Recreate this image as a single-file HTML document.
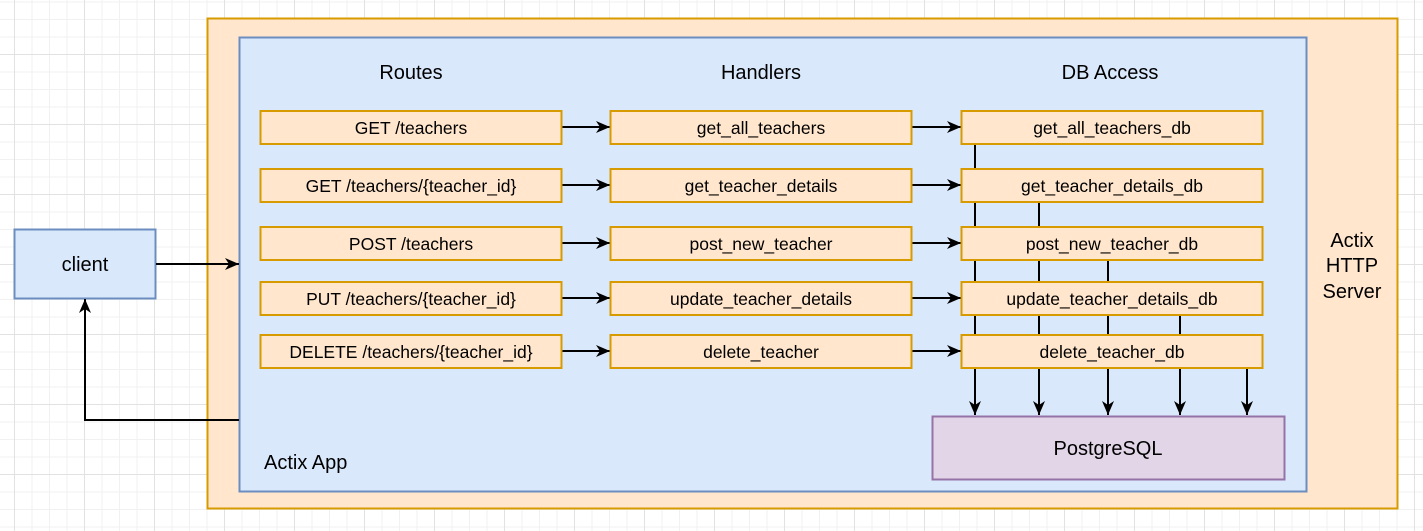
<!DOCTYPE html>
<html><head><meta charset="utf-8"><style>
html,body{margin:0;padding:0;}
body{width:1423px;height:531px;overflow:hidden;background-color:#fff;
background-image:
linear-gradient(to right,#e2e2e2 1px,transparent 1px),
linear-gradient(to bottom,#e2e2e2 1px,transparent 1px),
linear-gradient(to right,#f1f1f1 1px,transparent 1px),
linear-gradient(to bottom,#f1f1f1 1px,transparent 1px);
background-size:70px 70px,70px 70px,17.5px 17.5px,17.5px 17.5px;
background-position:14px 54px,14px 54px,14px 54px,14px 54px;}
svg{position:absolute;left:0;top:0;}
text{font-family:"Liberation Sans",Arial,sans-serif;fill:#000;}
</style></head><body>
<svg width="1423" height="531" viewBox="0 0 1423 531" xmlns="http://www.w3.org/2000/svg">
<defs><marker id="a" markerWidth="16" markerHeight="14" refX="14" refY="6" orient="auto" markerUnits="userSpaceOnUse"><path d="M0,0 L14,6 L0,12 L4,6 Z" fill="#000"/></marker></defs>
<rect x="207.5" y="18.5" width="1190" height="490" fill="#ffe6cc" stroke="#d79b00" stroke-width="2"/>
<rect x="239.5" y="37.5" width="1067" height="454" fill="#dae8fc" stroke="#6c8ebf" stroke-width="2"/>
<text x="1352" y="247" font-size="20" text-anchor="middle">Actix</text>
<text x="1352" y="272" font-size="20" text-anchor="middle">HTTP</text>
<text x="1352" y="298" font-size="20" text-anchor="middle">Server</text>
<text x="411" y="79" font-size="20" text-anchor="middle">Routes</text>
<text x="761" y="79" font-size="20" text-anchor="middle">Handlers</text>
<text x="1110" y="79" font-size="20" text-anchor="middle">DB Access</text>
<text x="264" y="469" font-size="20">Actix App</text>
<rect x="14.5" y="229.5" width="141" height="69" fill="#dae8fc" stroke="#6c8ebf" stroke-width="2"/>
<text x="85" y="271" font-size="20" text-anchor="middle">client</text>
<g stroke="#000" stroke-width="2" fill="none">
<line x1="156" y1="264" x2="239" y2="264" marker-end="url(#a)"/>
<polyline points="239,420 85,420 85,299" marker-end="url(#a)"/>
<line x1="975" y1="145" x2="975" y2="415" marker-end="url(#a)"/>
<line x1="1039" y1="203" x2="1039" y2="415" marker-end="url(#a)"/>
<line x1="1108" y1="261" x2="1108" y2="415" marker-end="url(#a)"/>
<line x1="1180" y1="316" x2="1180" y2="415" marker-end="url(#a)"/>
<line x1="1247" y1="369" x2="1247" y2="415" marker-end="url(#a)"/>
</g>
<g font-size="17.5">
<g stroke="#000" stroke-width="2">
<line x1="562" y1="127" x2="610" y2="127" marker-end="url(#a)"/><line x1="912" y1="127" x2="961" y2="127" marker-end="url(#a)"/>
<line x1="562" y1="185" x2="610" y2="185" marker-end="url(#a)"/><line x1="912" y1="185" x2="961" y2="185" marker-end="url(#a)"/>
<line x1="562" y1="243" x2="610" y2="243" marker-end="url(#a)"/><line x1="912" y1="243" x2="961" y2="243" marker-end="url(#a)"/>
<line x1="562" y1="298" x2="610" y2="298" marker-end="url(#a)"/><line x1="912" y1="298" x2="961" y2="298" marker-end="url(#a)"/>
<line x1="562" y1="351" x2="610" y2="351" marker-end="url(#a)"/><line x1="912" y1="351" x2="961" y2="351" marker-end="url(#a)"/>
</g>
<g fill="#ffe6cc" stroke="#d79b00" stroke-width="2">
<rect x="260.5" y="111" width="301" height="33"/><rect x="610.5" y="111" width="301" height="33"/><rect x="961.5" y="111" width="301" height="33"/>
<rect x="260.5" y="169" width="301" height="33"/><rect x="610.5" y="169" width="301" height="33"/><rect x="961.5" y="169" width="301" height="33"/>
<rect x="260.5" y="227" width="301" height="33"/><rect x="610.5" y="227" width="301" height="33"/><rect x="961.5" y="227" width="301" height="33"/>
<rect x="260.5" y="282" width="301" height="33"/><rect x="610.5" y="282" width="301" height="33"/><rect x="961.5" y="282" width="301" height="33"/>
<rect x="260.5" y="335" width="301" height="33"/><rect x="610.5" y="335" width="301" height="33"/><rect x="961.5" y="335" width="301" height="33"/>
</g>
<g text-anchor="middle">
<text x="411" y="134">GET /teachers</text><text x="761" y="134">get_all_teachers</text><text x="1112" y="134">get_all_teachers_db</text>
<text x="411" y="192">GET /teachers/{teacher_id}</text><text x="761" y="192">get_teacher_details</text><text x="1112" y="192">get_teacher_details_db</text>
<text x="411" y="250">POST /teachers</text><text x="761" y="250">post_new_teacher</text><text x="1112" y="250">post_new_teacher_db</text>
<text x="411" y="305">PUT /teachers/{teacher_id}</text><text x="761" y="305">update_teacher_details</text><text x="1112" y="305">update_teacher_details_db</text>
<text x="411" y="358">DELETE /teachers/{teacher_id}</text><text x="761" y="358">delete_teacher</text><text x="1112" y="358">delete_teacher_db</text>
</g>
</g>
<rect x="932.5" y="416.5" width="352" height="63" fill="#e1d5e7" stroke="#9673a6" stroke-width="2"/>
<text x="1108" y="455" font-size="20" text-anchor="middle">PostgreSQL</text>
</svg>
</body></html>
